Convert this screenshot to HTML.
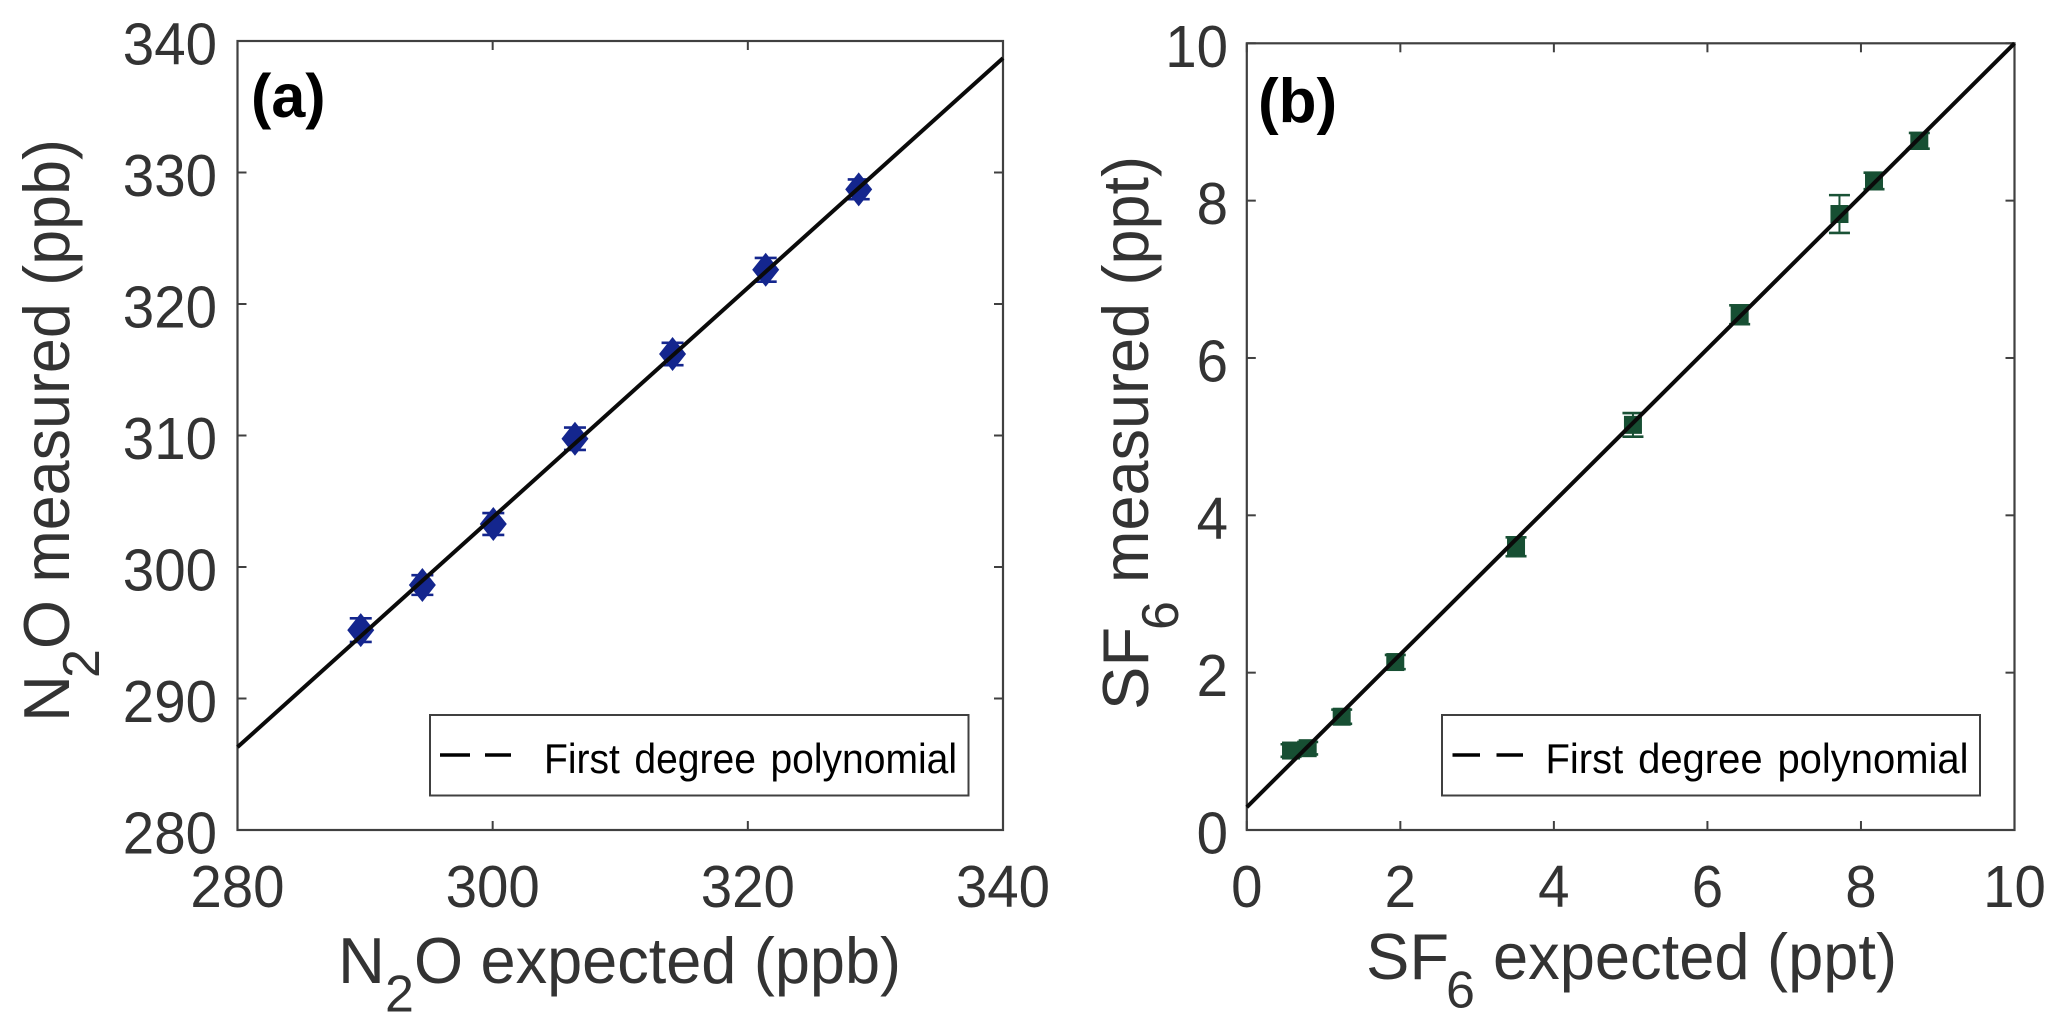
<!DOCTYPE html>
<html lang="en">
<head>
<meta charset="utf-8">
<title>N2O and SF6 measured versus expected</title>
<style>
  html, body { margin: 0; padding: 0; background: #fff; }
  svg { display: block; }
  text { font-family: "Liberation Sans", Arial, sans-serif; fill: #333; }
  .tick-label { font-size: 59px; }
  .axis-title { font-size: 65px; }
  .axis-sub { font-size: 52px; }
  .legend-text { font-size: 42px; fill: #000; }
  .panel-tag { font-weight: bold; fill: #000; }
</style>
</head>
<body>
<svg id="figure" xmlns="http://www.w3.org/2000/svg" width="2067" height="1036" viewBox="0 0 2067 1036">
  <rect width="2067" height="1036" fill="#fff"/>

  <g id="panel-a">
    <g id="a-axes"></g>
    <g id="a-marks"></g>
    <text class="panel-tag" x="251" y="117" font-size="61">(a)</text>
    <rect x="430" y="715" width="538.5" height="80.5" fill="#fff" stroke="#404040" stroke-width="2"/>
    <line x1="440" y1="755" x2="470" y2="755" stroke="#000" stroke-width="3.5"/>
    <line x1="485" y1="755" x2="511" y2="755" stroke="#000" stroke-width="3.5"/>
    <text class="legend-text" x="544" y="773" textLength="413" lengthAdjust="spacingAndGlyphs" word-spacing="4">First degree polynomial</text>

    <text class="axis-title" x="338" y="983">N</text>
    <text class="axis-sub" x="385" y="1011.5">2</text>
    <text class="axis-title" x="414" y="983" textLength="487" lengthAdjust="spacingAndGlyphs">O expected (ppb)</text>

    <g transform="translate(69 0) rotate(-90)">
      <text class="axis-title" x="-722" y="0">N</text>
      <text class="axis-sub" x="-678" y="30">2</text>
      <text class="axis-title" x="-649" y="0" textLength="510" lengthAdjust="spacingAndGlyphs">O measured (ppb)</text>
    </g>
  </g>

  <g id="panel-b">
    <g id="b-axes"></g>
    <g id="b-marks"></g>
    <text class="panel-tag" x="1258" y="122" font-size="62">(b)</text>
    <rect x="1442" y="715" width="538" height="80.5" fill="#fff" stroke="#404040" stroke-width="2"/>
    <line x1="1452.5" y1="755" x2="1480" y2="755" stroke="#000" stroke-width="3.5"/>
    <line x1="1496.5" y1="755" x2="1523" y2="755" stroke="#000" stroke-width="3.5"/>
    <text class="legend-text" x="1545.5" y="773" textLength="423" lengthAdjust="spacingAndGlyphs" word-spacing="4">First degree polynomial</text>

    <text class="axis-title" x="1366" y="979">SF</text>
    <text class="axis-sub" x="1446" y="1007.5">6</text>
    <text class="axis-title" x="1493" y="979" textLength="404" lengthAdjust="spacingAndGlyphs">expected (ppt)</text>

    <g transform="translate(1148 0) rotate(-90)">
      <text class="axis-title" x="-710" y="0">SF</text>
      <text class="axis-sub" x="-630" y="30">6</text>
      <text class="axis-title" x="-583" y="0" textLength="427" lengthAdjust="spacingAndGlyphs">measured (ppt)</text>
    </g>
  </g>
</svg>

<script>
// Panel (a) data: N2O
const n2oExpected = [289.66, 294.49, 300.05, 306.45, 314.1, 321.4, 328.69];
const n2oMeasured = [295.2, 298.63, 303.27, 309.75, 316.2, 322.6, 328.72];
const n2oError = [0.9, 0.75, 0.83, 0.85, 0.85, 0.9, 0.75];
const n2oFitX = [280, 340];
const n2oFitY = [286.3, 338.7];
const n2oXTickLabels = ['280', '300', '320', '340'];
const n2oYTickLabels = ['280', '290', '300', '310', '320', '330', '340'];

// Panel (b) data: SF6
const sf6Expected = [0.576, 0.793, 1.236, 1.934, 3.507, 5.03, 6.42, 7.72, 8.17, 8.76];
const sf6Measured = [1.01, 1.04, 1.44, 2.135, 3.6, 5.15, 6.55, 7.83, 8.25, 8.76];
const sf6Error = [0.08, 0.08, 0.09, 0.09, 0.12, 0.15, 0.12, 0.24, 0.105, 0.1];
const sf6FitX = [0, 10];
const sf6FitY = [0.29, 10];
const sf6XTickLabels = ['0', '2', '4', '6', '8', '10'];
const sf6YTickLabels = ['0', '2', '4', '6', '8', '10'];

const SVG_NS = 'http://www.w3.org/2000/svg';
const AXIS_COLOR = '#404040';
const TICK_LEN = 9;
const DIGIT_ADVANCE = 31.4;

function make(parent, tag, attrs) {
  const el = document.createElementNS(SVG_NS, tag);
  for (const k in attrs) el.setAttribute(k, attrs[k]);
  parent.appendChild(el);
  return el;
}

function linearScale(d0, d1, r0, r1) {
  return v => r0 + (v - d0) * (r1 - r0) / (d1 - d0);
}

function drawAxes(group, box, sx, sy, xLabels, yLabels, yLabelRight) {
  const frame = make(group, 'rect', {
    x: box.left, y: box.top, width: box.right - box.left, height: box.bottom - box.top,
    fill: '#fff', stroke: AXIS_COLOR, 'stroke-width': 2.2
  });
  
  

  xLabels.forEach(label => {
    const px = sx(Number(label));
    const bottomTick = make(group, 'line', {
      x1: px, x2: px, y1: box.bottom, y2: box.bottom - TICK_LEN, stroke: AXIS_COLOR, 'stroke-width': 2
    });
    
    
    const topTick = make(group, 'line', {
      x1: px, x2: px, y1: box.top, y2: box.top + TICK_LEN, stroke: AXIS_COLOR, 'stroke-width': 2
    });
    
    
    const text = make(group, 'text', {
      x: px, y: 907, 'text-anchor': 'middle', class: 'tick-label',
      textLength: label.length * DIGIT_ADVANCE, lengthAdjust: 'spacingAndGlyphs'
    });
    
    
    text.textContent = label;
  });

  yLabels.forEach(label => {
    const py = sy(Number(label));
    const leftTick = make(group, 'line', {
      x1: box.left, x2: box.left + TICK_LEN, y1: py, y2: py, stroke: AXIS_COLOR, 'stroke-width': 2
    });
    
    
    const rightTick = make(group, 'line', {
      x1: box.right, x2: box.right - TICK_LEN, y1: py, y2: py, stroke: AXIS_COLOR, 'stroke-width': 2
    });
    
    
    const text = make(group, 'text', {
      x: yLabelRight, y: py + 23.5, 'text-anchor': 'end', class: 'tick-label',
      textLength: label.length * DIGIT_ADVANCE, lengthAdjust: 'spacingAndGlyphs'
    });
    
    
    text.textContent = label;
  });
}

function drawErrorBars(group, xs, ys, errs, sx, sy, color, capHalf) {
  xs.forEach((v, i) => {
    const px = sx(v);
    const top = sy(ys[i] + errs[i]);
    const bottom = sy(ys[i] - errs[i]);
    const stem = make(group, 'line', { x1: px, x2: px, y1: top, y2: bottom, stroke: color, 'stroke-width': 2 });
    
    
    const capTop = make(group, 'line', { x1: px - capHalf, x2: px + capHalf, y1: top, y2: top, stroke: color, 'stroke-width': 2.6 });
    
    
    const capBottom = make(group, 'line', { x1: px - capHalf, x2: px + capHalf, y1: bottom, y2: bottom, stroke: color, 'stroke-width': 2.6 });
    
    
  });
}

function drawFit(group, fitX, fitY, sx, sy) {
  const line = make(group, 'line', {
    x1: sx(fitX[0]), y1: sy(fitY[0]), x2: sx(fitX[1]), y2: sy(fitY[1]),
    stroke: '#0a0a0a', 'stroke-width': 4
  });
  
  
}

// Panel (a)
const boxA = { left: 237.5, right: 1003, top: 41, bottom: 830 };
const sxA = linearScale(280, 340, boxA.left, boxA.right);
const syA = linearScale(280, 340, boxA.bottom, boxA.top);
drawAxes(document.getElementById('a-axes'), boxA, sxA, syA, n2oXTickLabels, n2oYTickLabels, 217);
const marksA = document.getElementById('a-marks');
drawErrorBars(marksA, n2oExpected, n2oMeasured, n2oError, sxA, syA, '#14268e', 11);
n2oExpected.forEach((v, i) => {
  const px = sxA(v);
  const py = syA(n2oMeasured[i]);
  const diamond = make(marksA, 'polygon', {
    points: [[px, py - 17], [px + 13.5, py], [px, py + 17], [px - 13.5, py]].map(p => p.join(',')).join(' '),
    fill: '#14268e'
  });
  
  
});
drawFit(marksA, n2oFitX, n2oFitY, sxA, syA);

// Panel (b)
const boxB = { left: 1246.8, right: 2014.5, top: 43.3, bottom: 830 };
const sxB = linearScale(0, 10, boxB.left, boxB.right);
const syB = linearScale(0, 10, boxB.bottom, boxB.top);
drawAxes(document.getElementById('b-axes'), boxB, sxB, syB, sf6XTickLabels, sf6YTickLabels, 1228);
const marksB = document.getElementById('b-marks');
drawErrorBars(marksB, sf6Expected, sf6Measured, sf6Error, sxB, syB, '#1a5236', 10.5);
sf6Expected.forEach((v, i) => {
  const square = make(marksB, 'rect', {
    x: sxB(v) - 9, y: syB(sf6Measured[i]) - 9, width: 18, height: 18, fill: '#174f33'
  });
  
  
});
drawFit(marksB, sf6FitX, sf6FitY, sxB, syB);
</script>
</body>
</html>
